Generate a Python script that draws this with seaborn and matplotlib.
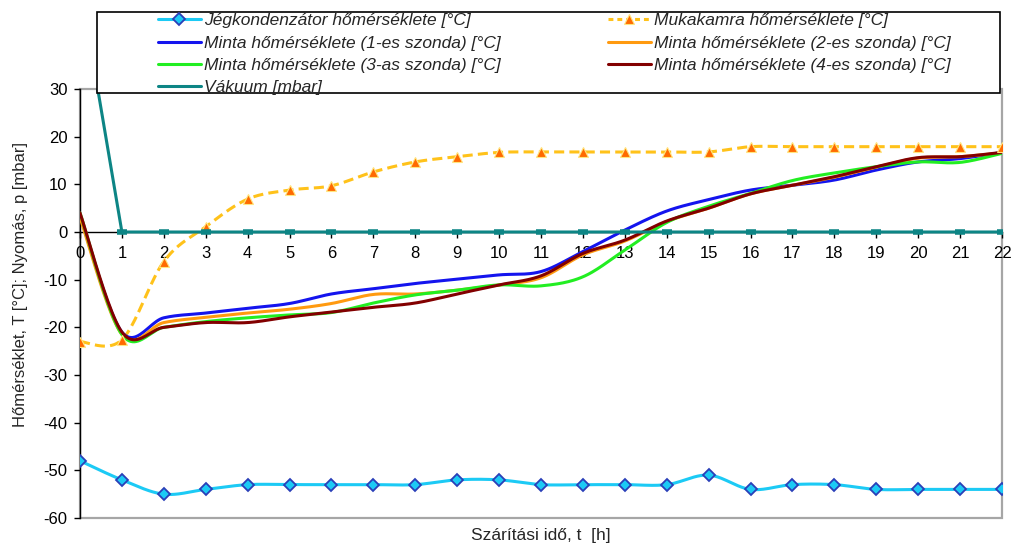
import numpy as np
import pandas as pd
import matplotlib
matplotlib.use("Agg")
import matplotlib.pyplot as plt
from matplotlib.lines import Line2D
from matplotlib.patches import Rectangle
import seaborn as sns

# ---- data -------------------------------------------------------------
hours = list(range(23))

jeg_kond = [-48, -52, -55, -54, -53, -53, -53, -53, -53, -52, -52, -53,
            -53, -53, -53, -51, -54, -53, -53, -54, -54, -54, -54]
mukakamra = [-23, -22.6, -6.2, 1.1, 6.9, 8.8, 9.7, 12.6, 14.7, 15.8, 16.7, 16.8,
             16.8, 16.8, 16.8, 16.8, 17.9, 17.9, 17.9, 17.9, 17.9, 17.9, 17.9]
minta_1 = [3.5, -21, -18, -17, -16, -15, -13, -11.9, -10.8, -9.9, -9, -8.3,
           -4.1, 0.4, 4.4, 6.8, 8.8, 9.8, 10.9, 13, 14.7, 15.4, 16.7]
minta_2 = [3, -21.5, -19, -17.9, -17, -16.2, -15, -13.1, -13, -12.2, -11.1, -9.6,
           -4.8, -1.9, 2.2, 5, 8, 9.8, 11.5, 13.6, 15.5, 15.8, 16.6]
minta_3 = [4, -21.5, -20, -18.8, -18, -17.4, -16.9, -14.9, -13.2, -12.2, -11.1, -11.3,
           -9.4, -3.8, 2, 5.4, 8.1, 10.8, 12.4, 13.7, 14.7, 14.6, 16.5]
minta_4 = [4, -21, -20, -19, -19, -17.8, -16.8, -15.8, -14.9, -13, -11.1, -9.2,
           -4.5, -1.7, 2.3, 5, 8, 9.8, 11.6, 13.7, 15.6, 15.8, 16.7]
vakuum = [52] + [0] * 22

labels = {
    "jeg": "Jégkondenzátor hőmérséklete [°C]",
    "muka": "Mukakamra hőmérséklete [°C]",
    "m1": "Minta hőmérséklete (1-es szonda) [°C]",
    "m2": "Minta hőmérséklete (2-es szonda) [°C]",
    "m3": "Minta hőmérséklete (3-as szonda) [°C]",
    "m4": "Minta hőmérséklete (4-es szonda) [°C]",
    "vak": "Vákuum [mbar]",
}
y_ticks = list(range(-60, 31, 10))

# ---- styling ----------------------------------------------------------
sns.set_style("white")
plt.rcParams["font.family"] = ["Liberation Sans", "DejaVu Sans"]
plt.rcParams["font.size"] = 11
plt.rcParams["axes.unicode_minus"] = False

C_JEG = "#1ccaf5"
C_JEG_EDGE = "#2a3fb8"
C_MUKA = "#ffc21a"
C_MUKA_MK = "#ff6a00"
C_M1 = "#1414ee"
C_M2 = "#ff9a10"
C_M3 = "#22ee22"
C_M4 = "#820000"
C_VAK = "#0d8585"
GRAY = "#a6a6a6"


def smooth_curve(x, y, n=24):
    """Cubic Bezier smoothing through every point (chart-style smoothed line)."""
    x = np.asarray(x, float)
    y = np.asarray(y, float)
    pts = np.column_stack([x, y])
    out = [pts[0]]
    t = np.linspace(0, 1, n)[1:, None]
    for i in range(len(pts) - 1):
        p0 = pts[i - 1] if i > 0 else pts[i]
        p1 = pts[i]
        p2 = pts[i + 1]
        p3 = pts[i + 2] if i + 2 < len(pts) else pts[i + 1]
        c1 = p1 + (p2 - p0) / 6.0
        c2 = p2 - (p3 - p1) / 6.0
        seg = ((1 - t) ** 3) * p1 + 3 * ((1 - t) ** 2) * t * c1 \
            + 3 * (1 - t) * t ** 2 * c2 + t ** 3 * p2
        out.extend(seg)
    out = np.array(out)
    return pd.DataFrame({"t": out[:, 0], "v": out[:, 1]})


fig = plt.figure(figsize=(10.13, 5.45), dpi=100)
ax = fig.add_axes([80 / 1013, 1 - 518 / 545, 922 / 1013, 429 / 545])

lw = 2.2
MUKA_DASH = [3.3, 1.7]

# Jégkondenzátor
d = smooth_curve(hours, jeg_kond)
sns.lineplot(data=d, x="t", y="v", sort=False, ax=ax, color=C_JEG, lw=lw, zorder=3)
ax.plot(hours, jeg_kond, ls="none", marker="D", ms=6, mfc=C_JEG,
        mec=C_JEG_EDGE, mew=1.3, zorder=4)

# Mukakamra
d = smooth_curve(hours, mukakamra)
sns.lineplot(data=d, x="t", y="v", sort=False, ax=ax, color=C_MUKA, lw=lw,
             zorder=3).lines[-1].set_dashes(MUKA_DASH)
ax.plot(hours, mukakamra, ls="none", marker="^", ms=6.5, mfc=C_MUKA_MK,
        mec="#ffe680", mew=0.8, zorder=4)

# Minta probes
for vals, col in [(minta_1, C_M1), (minta_2, C_M2), (minta_3, C_M3), (minta_4, C_M4)]:
    d = smooth_curve(hours, vals)
    sns.lineplot(data=d, x="t", y="v", sort=False, ax=ax, color=col, lw=lw, zorder=3)

# Vákuum
sns.lineplot(x=hours, y=vakuum, ax=ax, color=C_VAK, lw=lw, zorder=5)
ax.plot(hours, vakuum, ls="none", marker="_", ms=7, mew=4, color=C_VAK, zorder=5)

# ---- axes -------------------------------------------------------------
ax.set_xlim(0, 22)
ax.set_ylim(-60, 30)
ax.set_xticks(hours)
ax.set_yticks(y_ticks)
ax.spines["bottom"].set_position(("data", 0))
for s in ["top", "right"]:
    ax.spines[s].set_visible(False)
ax.spines["left"].set_color("black")
ax.spines["bottom"].set_color("black")
ax.spines["left"].set_linewidth(1.0)
ax.spines["bottom"].set_linewidth(1.0)
ax.add_patch(Rectangle((0, 0), 1, 1, transform=ax.transAxes, fill=False,
                       edgecolor=GRAY, lw=1.6, zorder=0.5, clip_on=False))
ax.tick_params(axis="x", direction="out", length=4, width=1, pad=6,
               labelsize=12, colors="black", bottom=True)
ax.tick_params(axis="y", direction="out", length=4, width=1, pad=5,
               labelsize=12, colors="black", left=True)
ax.set_xlabel("Szárítási idő, t  [h]", fontsize=12.5)
ax.set_ylabel("Hőmérséklet, T [°C]; Nyomás, p [mbar]", fontsize=12)
ax.xaxis.set_label_coords(0.5, -0.04)
ax.xaxis.label.set_va("center")
ax.yaxis.set_label_coords(-0.065, 0.545)
ax.yaxis.label.set_va("center")
if ax.get_legend():
    ax.get_legend().remove()

# ---- legend -----------------------------------------------------------
fig.add_artist(Rectangle((97 / 1013, 1 - 93 / 545), (1000 - 97) / 1013, (93 - 12) / 545,
                         transform=fig.transFigure, facecolor="white",
                         edgecolor="black", lw=1.2, zorder=3))

h_jeg = Line2D([], [], color=C_JEG, lw=lw, marker="D", ms=6, mfc=C_JEG,
               mec=C_JEG_EDGE, mew=1.3)
h_muka = Line2D([], [], color=C_MUKA, lw=lw, dashes=[1.6, 1.3], marker="^",
                ms=6.5, mfc=C_MUKA_MK, mec="#ffe680", mew=0.8)
h_m1 = Line2D([], [], color=C_M1, lw=lw)
h_m2 = Line2D([], [], color=C_M2, lw=lw)
h_m3 = Line2D([], [], color=C_M3, lw=lw)
h_m4 = Line2D([], [], color=C_M4, lw=lw)
h_vak = Line2D([], [], color=C_VAK, lw=lw)

leg_kw = dict(loc="upper left", frameon=False, borderpad=0, borderaxespad=0,
              handlelength=2.45, handletextpad=0.2, labelspacing=0.42,
              prop={"style": "italic", "size": 12.5})
leg1 = fig.legend([h_jeg, h_m1, h_m3, h_vak],
                  [labels["jeg"], labels["m1"], labels["m3"], labels["vak"]],
                  bbox_to_anchor=(158 / 1013, 1 - 13 / 545), **leg_kw)
leg2 = fig.legend([h_muka, h_m2, h_m4],
                  [labels["muka"], labels["m2"], labels["m4"]],
                  bbox_to_anchor=(608 / 1013, 1 - 13 / 545), **leg_kw)
leg1.set_zorder(4)
leg2.set_zorder(4)

fig.savefig("out.png", dpi=100)
